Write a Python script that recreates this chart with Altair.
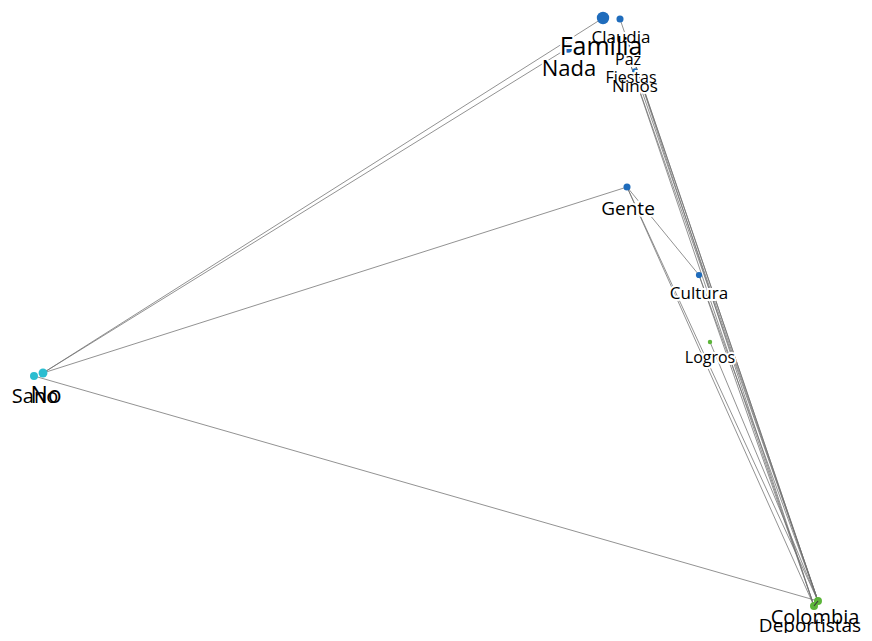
import altair as alt
import pandas as pd

# Nodes (positions, page pixel coordinates)
names = ["Familia", "Claudia", "Nada", "Paz", "Fiestas", "Ninos", "Gente", "Cultura",
         "Logros", "Sano", "No", "Colombia", "Deportistas"]
xs = [603, 620, 568, 628, 630, 635, 627, 699, 710, 34, 43, 818, 814]
ys = [18, 19, 48, 43, 63, 71, 187, 275, 342, 376, 373, 601, 606]
groups = ["a", "a", "a", "a", "a", "a", "a", "a", "b", "c", "c", "b", "b"]
radius = [7, 4, 5.5, 3.5, 3, 3, 4, 3.5, 2.5, 4.5, 5, 4.5, 4.5]
font_sizes = [25, 17, 22, 16, 16, 17, 19, 17, 16, 20, 23, 20, 19]
label_dx = [-2, 1, 1, 0, 1, 0, 1, 0, 0, 1, 3, -3, -4]
label_dy = [37, 24, 28, 22, 20, 21, 28, 24, 21, 27, 30, 23, 26]

# Edges
src = ["No", "No", "No", "Sano",
       "Colombia", "Colombia", "Colombia", "Colombia", "Deportistas", "Deportistas",
       "Colombia", "Deportistas", "Colombia", "Colombia", "Deportistas", "Gente"]
dst = ["Familia", "Nada", "Gente", "Colombia",
       "Claudia", "Paz", "Fiestas", "Ninos", "Fiestas", "Paz",
       "Gente", "Gente", "Cultura", "Logros", "Cultura", "Cultura"]

inner_src = ["Colombia"]
inner_dst = ["Deportistas"]

nodes = pd.DataFrame({"name": names, "x": xs, "y": ys, "group": groups,
                      "r": radius, "fs": font_sizes})
nodes["area"] = 3.14159 * nodes["r"] ** 2
nodes["lx"] = nodes["x"] + pd.Series(label_dx)
nodes["ly"] = nodes["y"] + pd.Series(label_dy)

pos = nodes.set_index("name")


def edge_frame(s, d):
    return pd.DataFrame({
        "x": [pos.loc[a, "x"] for a in s], "y": [pos.loc[a, "y"] for a in s],
        "x2": [pos.loc[b, "x"] for b in d], "y2": [pos.loc[b, "y"] for b in d],
    })


edges = edge_frame(src, dst)
inner = edge_frame(inner_src, inner_dst)

W, H = 856, 625
xsc = alt.Scale(domain=[8, 8 + W], nice=False, zero=False)
ysc = alt.Scale(domain=[8 + H, 8], nice=False, zero=False)
noax = None

edge_layer = alt.Chart(edges).mark_rule(color="#707070", strokeWidth=0.9, opacity=0.85).encode(
    x=alt.X("x:Q", scale=xsc, axis=noax), y=alt.Y("y:Q", scale=ysc, axis=noax),
    x2="x2:Q", y2="y2:Q")

node_layer = alt.Chart(nodes).mark_circle(opacity=1).encode(
    x=alt.X("x:Q", scale=xsc, axis=noax), y=alt.Y("y:Q", scale=ysc, axis=noax),
    size=alt.Size("area:Q", scale=None, legend=None),
    color=alt.Color("group:N", scale=alt.Scale(domain=["a", "b", "c"],
                                                range=["#1f6cbc", "#5cb53a", "#2bbdd0"]),
                    legend=None))

inner_layer = alt.Chart(inner).mark_rule(color="#3a3a3a", strokeWidth=1.2).encode(
    x=alt.X("x:Q", scale=xsc, axis=noax), y=alt.Y("y:Q", scale=ysc, axis=noax),
    x2="x2:Q", y2="y2:Q")

halo = alt.Chart(nodes).mark_text(font="Open Sans", baseline="alphabetic", align="center",
                                  stroke="white", strokeWidth=4, fill="white").encode(
    x=alt.X("lx:Q", scale=xsc, axis=noax), y=alt.Y("ly:Q", scale=ysc, axis=noax),
    text="name:N", size=alt.Size("fs:Q", scale=None, legend=None))

labels = alt.Chart(nodes).mark_text(font="Open Sans", baseline="alphabetic", align="center",
                                    color="#000000").encode(
    x=alt.X("lx:Q", scale=xsc, axis=noax), y=alt.Y("ly:Q", scale=ysc, axis=noax),
    text="name:N", size=alt.Size("fs:Q", scale=None, legend=None))

chart = alt.layer(edge_layer, node_layer, inner_layer, halo, labels).properties(
    width=W, height=H, padding=0, autosize=alt.AutoSizeParams(type="none")
).configure(background="white").configure_view(stroke=None, strokeWidth=0)

chart.save("out.html", embed_options={"renderer": "svg", "actions": False})
